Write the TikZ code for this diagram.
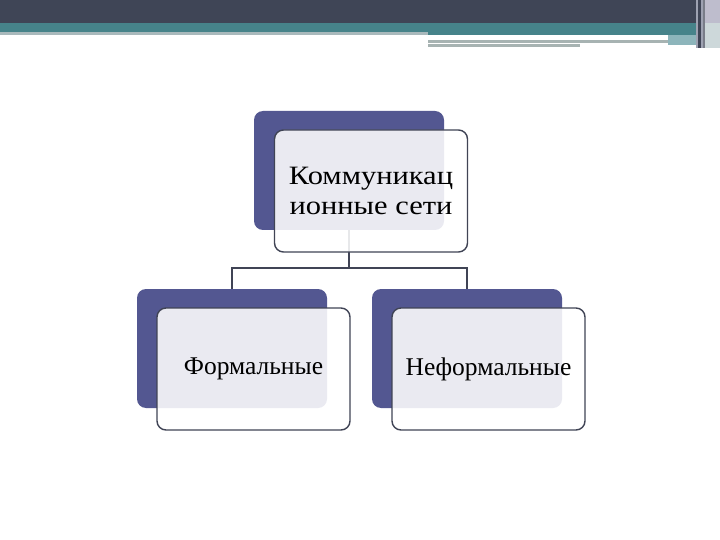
\documentclass[tikz,border=0pt]{standalone}
\usepackage{fontspec}
\setmainfont{Liberation Serif}
\newfontfamily\widefont[FakeStretch=1.15]{Liberation Serif}
\definecolor{barDark}{HTML}{3F4556}
\definecolor{barTeal}{HTML}{46838A}
\definecolor{barLight}{HTML}{A9B9BC}
\definecolor{barGray}{HTML}{A7B3B2}
\definecolor{barPale}{HTML}{8DB5BB}
\definecolor{stripA}{HTML}{9EA2B2}
\definecolor{stripB}{HTML}{BEBDCD}
\definecolor{stripC}{HTML}{CDD8DA}
\definecolor{backBlue}{HTML}{535791}
\definecolor{edgeDark}{HTML}{404455}
\tikzset{
  backbox/.style={rectangle, rounded corners=9pt, fill=backBlue, draw=none,
    minimum width=190pt, minimum height=119pt, inner sep=0pt},
  frontbox/.style={rectangle, rounded corners=9pt, draw=edgeDark, line width=1.4pt,
    fill=white, fill opacity=0.88, text opacity=1,
    minimum width=193pt, minimum height=122pt, inner sep=2pt, align=center,
    font=\fontsize{25.5}{30}\selectfont},
  conn/.style={draw=edgeDark, line width=1.2pt}
}
\begin{document}
\begin{tikzpicture}[x=1pt,y=-1pt]
\useasboundingbox (0,0) rectangle (720,540);
\fill[white] (0,0) rectangle (720,540);
% header bar
\fill[barDark] (0,0) rectangle (720,23);
\fill[barTeal] (0,23) rectangle (720,32);
\fill[barLight] (0,32) rectangle (428,35);
\fill[barTeal] (428,32) rectangle (720,35.5);
\fill[white] (428,36) rectangle (668,39);
\fill[barGray] (428,40) rectangle (668,43);
\fill[barGray] (428,44) rectangle (580,47);
\fill[barPale] (668,35.5) rectangle (720,45);
\fill[stripA] (696,0) rectangle (698,48);
\fill[barDark] (698,0) rectangle (701,48);
\fill[stripA] (701,0) rectangle (703,48);
\fill[barDark!70] (703,0) rectangle (705,48);
\fill[stripB] (705,0) rectangle (720,23);
\fill[stripC] (705,23) rectangle (720,48);
% hub of the connectors
\coordinate (hub) at (349,268);
% boxes
\node[backbox] (tb) at (349,170.5) {};
\node[backbox] (lb) at (232,348.5) {};
\node[backbox] (rb) at (467,348.5) {};
\draw[conn] (tb.south) -- (hub);
\draw[conn] (lb.north) |- (hub) -| (rb.north);
\node[frontbox, font=\widefont\fontsize{26.5}{30}\selectfont] (tf) at (371,191) {Коммуникац\\ионные сети};
\node[frontbox] (lf) at (253.5,369) {Формальные};
\node[frontbox] (rf) at (488.5,369) {Неформальные};
\end{tikzpicture}
\end{document}
